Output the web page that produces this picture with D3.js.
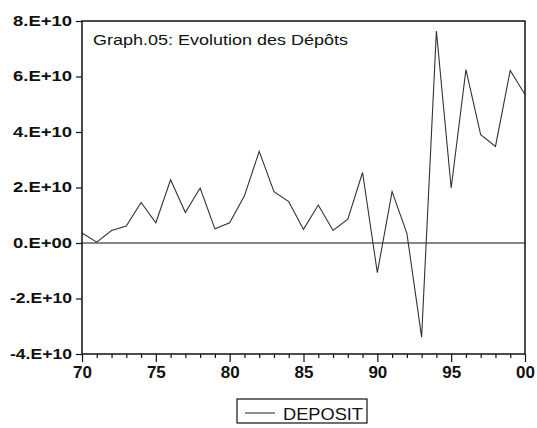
<!DOCTYPE html>
<html>
<head>
<meta charset="utf-8">
<script src="https://cdn.jsdelivr.net/npm/d3@7"></script>
<style>
  body { margin: 0; background: #fff; }
  text { font-family: "Liberation Sans", Arial, sans-serif; fill: #111; }
</style>
</head>
<body>
<div id="chart"></div>
<script>
// annual deposits, 1970 - 2000
const years = d3.range(1970, 2001)
const deposit = [
  0.36e10, 0.03e10, 0.45e10, 0.61e10, 1.46e10, 0.73e10, 2.28e10, 1.10e10,
  1.98e10, 0.51e10, 0.73e10, 1.70e10, 3.30e10, 1.85e10, 1.49e10, 0.49e10,
  1.37e10, 0.45e10, 0.86e10, 2.54e10, -1.07e10, 1.85e10, 0.35e10, -3.39e10,
  7.64e10, 1.98e10, 6.25e10, 3.90e10, 3.48e10, 6.22e10, 5.35e10
]
const yTicks = [-4e10, -2e10, 0, 2e10, 4e10, 6e10, 8e10]
const titleText = "Graph.05: Evolution des Dépôts"
const seriesName = "DEPOSIT"

const W = 537, H = 428
const plotL = 82, plotR = 525, plotT = 21, plotB = 354

const svg = d3.select("#chart").append("svg")
  .attr("width", W)
  .attr("height", H)

const x = d3.scaleLinear().domain([1970, 2000]).range([plotL, plotR])
const y = d3.scaleLinear().domain([-4e10, 8e10]).range([plotB, plotT])

// x axis: minor tick every year, longer every 5
const xAxis = d3.axisBottom(x)
  .tickValues(years)
  .tickSize(4)
  .tickPadding(5)
  .tickFormat(d => d % 5 === 0 ? String(d % 100).padStart(2, "0") : "")

const gx = svg.append("g")
  .attr("transform", "translate(0," + plotB + ")")
  .call(xAxis)
gx.select(".domain").remove()
gx.selectAll(".tick line")
  .attr("stroke", "#111")
  .attr("stroke-width", 1.2)
  .attr("y2", d => d % 5 === 0 ? 8 : 4)
gx.selectAll(".tick text")
  .attr("y", 12)
  .attr("font-size", 17)
  .attr("font-weight", "bold")

// y axis
const yAxis = d3.axisLeft(y)
  .tickValues(yTicks)
  .tickSize(6)
  .tickPadding(4)
  .tickFormat(d => d === 0 ? "0.E+00" : (d / 1e10) + ".E+10")

const gy = svg.append("g")
  .attr("transform", "translate(" + plotL + ",0)")
  .call(yAxis)
gy.select(".domain").remove()
gy.selectAll(".tick line").attr("stroke", "#111").attr("stroke-width", 1.2)
gy.selectAll(".tick text")
  .attr("font-size", 14)
  .attr("font-weight", "bold")
  .attr("textLength", d => d < 0 ? 62 : 59)
  .attr("lengthAdjust", "spacingAndGlyphs")

// zero line
svg.append("line")
  .attr("x1", plotL).attr("x2", plotR)
  .attr("y1", y(0)).attr("y2", y(0))
  .attr("stroke", "#111")
  .attr("stroke-width", 1.2)

// series
const line = d3.line()
  .x((d, i) => x(years[i]))
  .y(d => y(d))

svg.append("path")
  .datum(deposit)
  .attr("d", line)
  .attr("fill", "none")
  .attr("stroke", "#333")
  .attr("stroke-width", 1.1)

// frame
svg.append("rect")
  .attr("x", plotL).attr("y", plotT)
  .attr("width", plotR - plotL)
  .attr("height", plotB - plotT)
  .attr("fill", "none")
  .attr("stroke", "#111")
  .attr("stroke-width", 1.5)

svg.append("text")
  .attr("x", 93)
  .attr("y", 44.5)
  .attr("font-size", 15)
  .attr("textLength", 255)
  .attr("lengthAdjust", "spacingAndGlyphs")
  .text(titleText)

// legend
const lg = svg.append("g")
lg.append("rect")
  .attr("x", 237).attr("y", 399)
  .attr("width", 130).attr("height", 24)
  .attr("fill", "none")
  .attr("stroke", "#111")
  .attr("stroke-width", 1.2)
lg.append("line")
  .attr("x1", 245).attr("x2", 275)
  .attr("y1", 413).attr("y2", 413)
  .attr("stroke", "#333")
  .attr("stroke-width", 1.1)
lg.append("text")
  .attr("x", 283)
  .attr("y", 420)
  .attr("font-size", 17)
  .attr("textLength", 80)
  .attr("lengthAdjust", "spacingAndGlyphs")
  .text(seriesName)
</script>
</body>
</html>
